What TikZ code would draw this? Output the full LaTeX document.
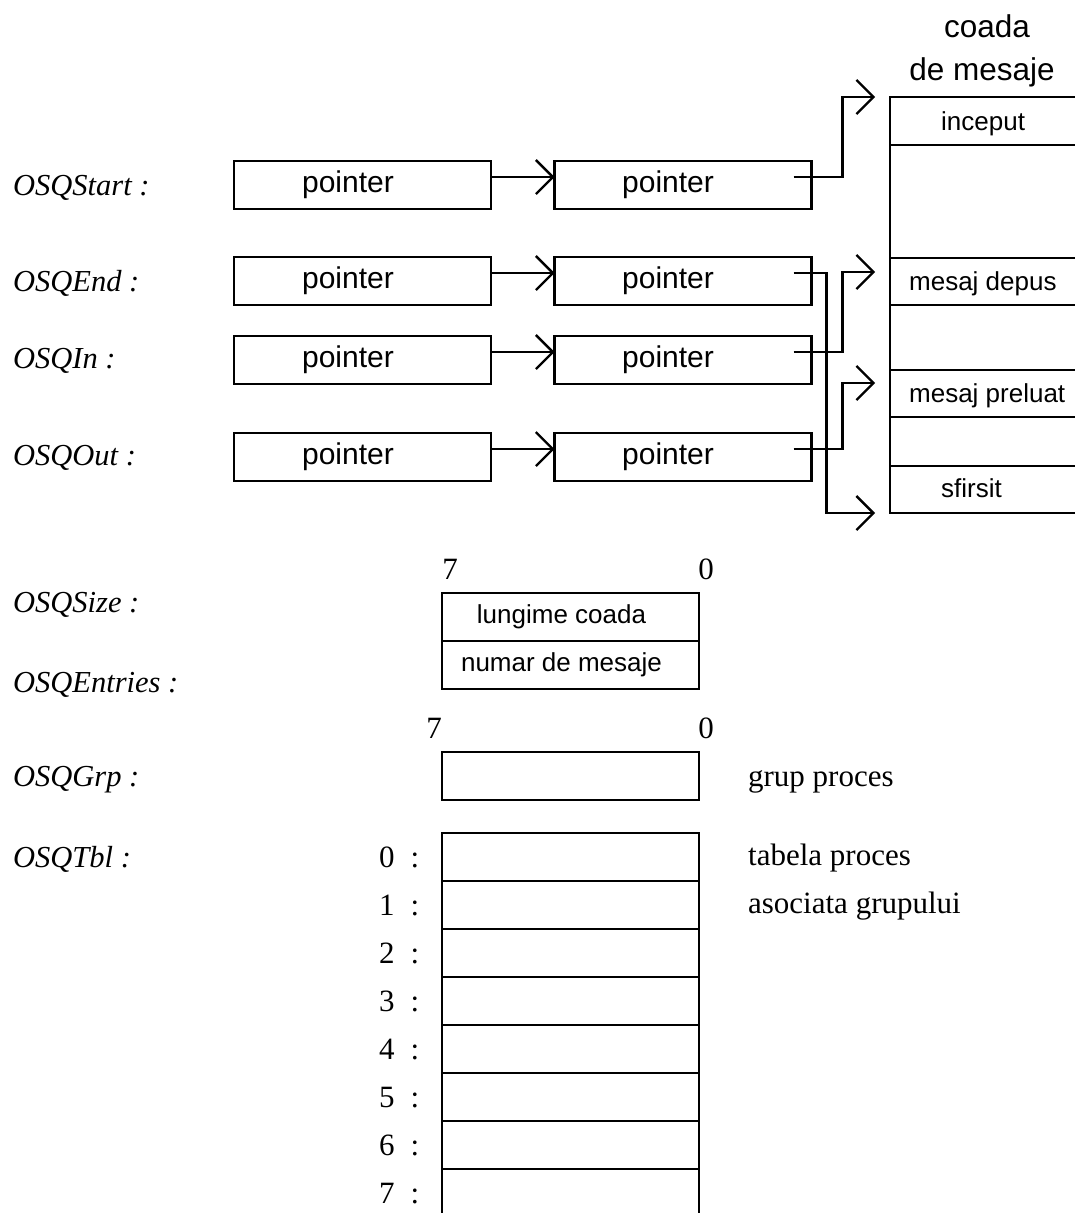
\documentclass[tikz,border=0pt]{standalone}
\usepackage{fontspec}
\setmainfont{Liberation Serif}
\setsansfont{Liberation Sans}
\usetikzlibrary{arrows.meta}

\begin{document}
\begin{tikzpicture}[x=1pt,y=-1pt,line width=2.3pt,
  cell/.style={draw, line width=2.3pt, inner sep=0pt, outer sep=0pt,
    minimum width=257pt, minimum height=48pt},
  ptrbox/.style={cell, font=\fontsize{30}{36}\sffamily, text height=22pt, text depth=7pt},
  smallbox/.style={cell, font=\fontsize{26}{31}\sffamily, text height=19pt, text depth=6pt},
  qrow/.style={draw, line width=2.3pt, inner sep=0pt, outer sep=0pt,
    minimum width=210pt},
  qtext/.style={font=\fontsize{26}{31}\sffamily, anchor=base west, inner sep=0pt},
  head/.style={font=\fontsize{31.5}{38}\sffamily, anchor=base, inner sep=0pt},
  varname/.style={font=\fontsize{30.5}{37}\itshape, anchor=base west, inner sep=0pt},
  serif/.style={font=\fontsize{31}{37}\selectfont, anchor=base west, inner sep=0pt},
  bit/.style={font=\fontsize{31}{37}\selectfont, anchor=base, inner sep=0pt},
  arr/.style={-{Straight Barb[length=17pt,width=34pt]}, line width=2.3pt},
  link/.style={line width=2.3pt}]

\useasboundingbox (0,0) rectangle (1075,1213);
\clip (0,0) rectangle (1075,1213);

% variable names
\node[varname] (nStart)   at (12,195) {OSQStart :};
\node[varname] (nEnd)     at (12,291) {OSQEnd :};
\node[varname] (nIn)      at (12,368) {OSQIn :};
\node[varname] (nOut)     at (12,465) {OSQOut :};
\node[varname] (nSize)    at (12,612) {OSQSize :};
\node[varname] (nEntries) at (12,692) {OSQEntries :};
\node[varname] (nGrp)     at (12,786) {OSQGrp :};
\node[varname] (nTbl)     at (12,867) {OSQTbl :};

% pointer chains
\node[ptrbox] (p1) at (362.5,185) {pointer\hspace*{29pt}};
\node[ptrbox] (p2) at (362.5,281) {pointer\hspace*{29pt}};
\node[ptrbox] (p3) at (362.5,360) {pointer\hspace*{29pt}};
\node[ptrbox] (p4) at (362.5,457) {pointer\hspace*{29pt}};
\node[ptrbox] (q1) at (683,185) {pointer\hspace*{30pt}};
\node[ptrbox] (q2) at (683,281) {pointer\hspace*{30pt}};
\node[ptrbox] (q3) at (683,360) {pointer\hspace*{30pt}};
\node[ptrbox] (q4) at (683,457) {pointer\hspace*{30pt}};

\foreach \i in {1,...,4}
  \draw[arr] ([yshift=8pt]p\i.east) -- ([yshift=8pt]q\i.west);

% message queue
\node[head] (hq1) at (987,37) {coada};
\node[head] (hq2) at (982,80) {de mesaje};
\draw[link] (890,97) rectangle (1100,513);
\node[qrow, minimum height=48pt] (inc) at (995,121) {};
\node[qrow, minimum height=47pt] (dep) at (995,281.5) {};
\node[qrow, minimum height=47pt] (pre) at (995,393.5) {};
\node[qrow, minimum height=47pt] (sf)  at (995,489.5) {};
\node[qtext] (tinc) at (940,130) {inceput};
\node[qtext] (tdep) at (908,290) {mesaj depus};
\node[qtext] (tpre) at (908,402) {mesaj preluat};
\node[qtext] (tsf)  at (940,497) {sfirsit};

% links from the second pointers into the queue
\draw[arr] ([xshift=-18pt,yshift=8pt]q1.east) -- ++(49,0)
  |- ([xshift=-15pt]inc.north west);
\draw[arr] ([xshift=-18pt,yshift=8pt]q2.east) -- ++(33,0)
  |- ([xshift=-15pt]sf.south west);
\draw[arr] ([xshift=-18pt,yshift=8pt]q3.east) -- ++(49,0)
  |- ([xshift=-15pt,yshift=-14pt]dep.north west);
\draw[arr] ([xshift=-18pt,yshift=8pt]q4.east) -- ++(49,0)
  |- ([xshift=-15pt,yshift=-13pt]pre.north west);

% size / entries
\node[bit] (b7a) at (450,579) {7};
\node[bit] (b0a) at (706,579) {0};
\node[smallbox] (size) at (570.5,617) {lungime coada\hspace*{18pt}};
\node[smallbox] (entries) at (570.5,665) {numar de mesaje\hspace*{18pt}};

% group
\node[bit] (b7b) at (434,738) {7};
\node[bit] (b0b) at (706,738) {0};
\node[cell] (grp) at (570.5,776) {};
\node[serif] (tgrp) at (747,786) {grup proces};

% table
\foreach \k in {0,...,7} {
  \node[cell] (t\k) at (570.5,857+48*\k) {};
  \node[serif] (ti\k) at (378,867+48*\k) {\k\hspace{16pt}:};
}
\node[serif] (ttab1) at (747,865) {tabela proces};
\node[serif] (ttab2) at (747,913) {asociata grupului};

\end{tikzpicture}
\end{document}
